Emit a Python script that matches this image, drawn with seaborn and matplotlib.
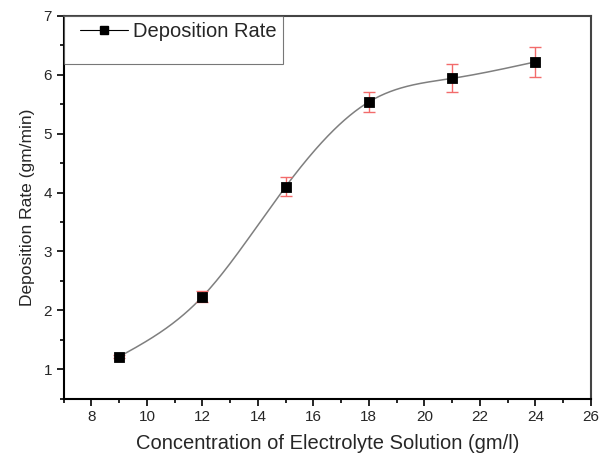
import numpy as np
import matplotlib
matplotlib.use("Agg")
import matplotlib.pyplot as plt
import seaborn as sns
from matplotlib.lines import Line2D
from matplotlib.legend_handler import HandlerLine2D
from matplotlib.ticker import MultipleLocator

concentration = [9, 12, 15, 18, 21, 24]
deposition_rate = [1.21, 2.23, 4.10, 5.54, 5.94, 6.22]
rate_error = [0.03, 0.09, 0.16, 0.17, 0.24, 0.25]


def natural_spline(x, y, xs):
    # smooth connecting line through the points (drawing only)
    x = np.asarray(x, float)
    y = np.asarray(y, float)
    n = len(x)
    h = np.diff(x)
    A = np.zeros((n, n))
    b = np.zeros(n)
    A[0, 0] = A[-1, -1] = 1
    for i in range(1, n - 1):
        A[i, i - 1] = h[i - 1]
        A[i, i] = 2 * (h[i - 1] + h[i])
        A[i, i + 1] = h[i]
        b[i] = 6 * ((y[i + 1] - y[i]) / h[i] - (y[i] - y[i - 1]) / h[i - 1])
    m = np.linalg.solve(A, b)
    idx = np.clip(np.searchsorted(x, xs) - 1, 0, n - 2)
    hi = h[idx]
    a = x[idx + 1] - xs
    c = xs - x[idx]
    return (m[idx] * a**3 / (6 * hi) + m[idx + 1] * c**3 / (6 * hi)
            + (y[idx] / hi - m[idx] * hi / 6) * a
            + (y[idx + 1] / hi - m[idx + 1] * hi / 6) * c)


sns.set_style("ticks")
plt.rcParams['font.family'] = ['Liberation Sans', 'DejaVu Sans']

fig, ax = plt.subplots(figsize=(6.01, 4.57), dpi=100)
fig.subplots_adjust(left=0.106, right=0.983, top=0.965, bottom=0.128)

xs = np.linspace(concentration[0], concentration[-1], 400)
ax.plot(xs, natural_spline(concentration, deposition_rate, xs), color="#7f7f7f", lw=1.1, zorder=2)
ax.errorbar(concentration, deposition_rate, yerr=rate_error, fmt="none",
            ecolor="#f26b6b", elinewidth=1, capsize=4, capthick=1, zorder=3)
sns.scatterplot(x=concentration, y=deposition_rate, marker="s", s=55,
                color="black", edgecolor="black", ax=ax, zorder=4)

ax.set_xlim(7, 26)
ax.set_ylim(0.5, 7)
ax.set_xticks(range(8, 27, 2))
ax.xaxis.set_minor_locator(MultipleLocator(1))
ax.yaxis.set_major_locator(MultipleLocator(1))
ax.yaxis.set_minor_locator(MultipleLocator(0.5))
ax.tick_params(which="major", direction="out", length=5, width=1.2, labelsize=11, color="black")
ax.tick_params(which="minor", direction="out", length=3, width=1.2, color="black")
for side in ["left", "bottom"]:
    ax.spines[side].set_color("black")
    ax.spines[side].set_linewidth(1.5)
for side in ["top", "right"]:
    ax.spines[side].set_color("#444444")
    ax.spines[side].set_linewidth(1.5)

ax.set_xlabel("Concentration of Electrolyte Solution (gm/l)", fontsize=14.5, labelpad=7)
ax.set_ylabel("Deposition Rate (gm/min)", fontsize=12.5, labelpad=6)

handles = [Line2D([], [], color="black", lw=0.8, marker="s", markersize=6),
           Line2D([], [], color="none")]
leg = ax.legend(handles, ["Deposition Rate", " "], loc="upper left",
                bbox_to_anchor=(0, 1), borderaxespad=0, fontsize=14.5,
                handlelength=2.9, handletextpad=0.25, frameon=True, fancybox=False,
                labelspacing=0.0, borderpad=0.3,
                handler_map={handles[0]: HandlerLine2D(xpad=0.5)})
leg.get_texts()[1].set_fontsize(11)
leg.get_frame().set_edgecolor("#555555")
leg.get_frame().set_linewidth(0.8)

fig.savefig("out.png", dpi=100)
